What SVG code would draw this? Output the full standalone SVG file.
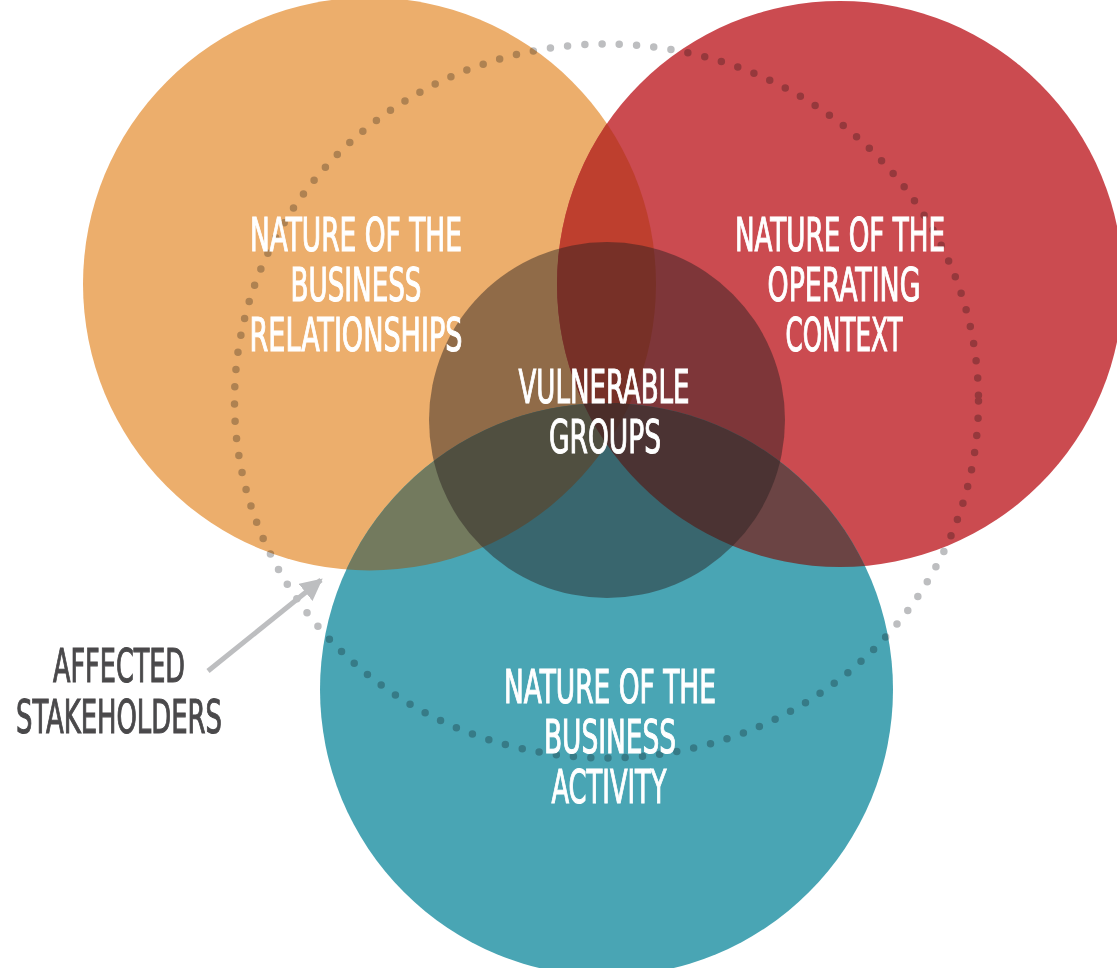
<svg xmlns="http://www.w3.org/2000/svg" width="1117" height="968" viewBox="0 0 1117 968">
<style>
.lbl{font-family:"Liberation Sans Narrow","DejaVu Sans Condensed","Liberation Sans",sans-serif;font-size:46px;fill:#ffffff;stroke:#ffffff;stroke-width:1.1;text-anchor:middle}
.dark{fill:#4a494b;stroke:#4a494b}
.dots{fill:none;stroke:#bdbec0;stroke-width:7.5;stroke-linecap:round;stroke-dasharray:0 17.3;mix-blend-mode:multiply}
</style>
<defs>
<clipPath id="cO"><circle cx="369.5" cy="284" r="286.5"/></clipPath>
<clipPath id="cR"><circle cx="840" cy="284" r="283"/></clipPath>
<marker id="ah" viewBox="0 0 10 10" refX="9" refY="5" markerWidth="4.4" markerHeight="4.4" orient="auto" markerUnits="strokeWidth">
<path d="M0,0 L10,5 L0,10 Z" fill="#bdbec0"/>
</marker>
</defs>
<rect width="1117" height="968" fill="#ffffff"/>
<g id="node-relationships"><circle cx="369.5" cy="284" r="286.5" fill="#ecae6c"/></g>
<g id="node-context"><circle cx="840" cy="284" r="283" fill="#cb4b50"/></g>
<g id="node-activity"><circle cx="606.5" cy="689.5" r="286.5" fill="#49a5b4"/></g>
<g id="overlaps">
<circle cx="840" cy="284" r="283" fill="#be3f2e" clip-path="url(#cO)"/>
<circle cx="606.5" cy="689.5" r="286.5" fill="#737a5e" clip-path="url(#cO)"/>
<circle cx="606.5" cy="689.5" r="286.5" fill="#6b4444" clip-path="url(#cR)"/>
<g clip-path="url(#cO)"><circle cx="606.5" cy="689.5" r="286.5" fill="#6a3a31" clip-path="url(#cR)"/></g>
</g>
<g id="node-vulnerable"><circle cx="607" cy="420" r="178" fill="#28201f" fill-opacity="0.47"/></g>
<g id="node-stakeholders">
<ellipse class="dots" cx="606.5" cy="401" rx="372" ry="357"/>
</g>
<g id="connectors">
<line x1="208" y1="671" x2="321" y2="580" stroke="#bdbec0" stroke-width="5" marker-end="url(#ah)"/>
</g>
<g id="label-relationships">
<text class="lbl" x="356" y="251" textLength="212" lengthAdjust="spacingAndGlyphs">NATURE OF THE</text>
<text class="lbl" x="356" y="301" textLength="131" lengthAdjust="spacingAndGlyphs">BUSINESS</text>
<text class="lbl" x="356" y="351" textLength="213" lengthAdjust="spacingAndGlyphs">RELATIONSHIPS</text>
</g>
<g id="label-context">
<text class="lbl" x="840" y="251" textLength="210" lengthAdjust="spacingAndGlyphs">NATURE OF THE</text>
<text class="lbl" x="844" y="301" textLength="153" lengthAdjust="spacingAndGlyphs">OPERATING</text>
<text class="lbl" x="844" y="351" textLength="117" lengthAdjust="spacingAndGlyphs">CONTEXT</text>
</g>
<g id="label-vulnerable">
<text class="lbl" x="604" y="403" textLength="171" lengthAdjust="spacingAndGlyphs">VULNERABLE</text>
<text class="lbl" x="605" y="453" textLength="112" lengthAdjust="spacingAndGlyphs">GROUPS</text>
</g>
<g id="label-activity">
<text class="lbl" x="610" y="703" textLength="212" lengthAdjust="spacingAndGlyphs">NATURE OF THE</text>
<text class="lbl" x="610" y="753" textLength="132" lengthAdjust="spacingAndGlyphs">BUSINESS</text>
<text class="lbl" x="609" y="803" textLength="115" lengthAdjust="spacingAndGlyphs">ACTIVITY</text>
</g>
<g id="label-stakeholders">
<text class="lbl dark" x="119" y="682" textLength="132" lengthAdjust="spacingAndGlyphs">AFFECTED</text>
<text class="lbl dark" x="119" y="733" textLength="206" lengthAdjust="spacingAndGlyphs">STAKEHOLDERS</text>
</g>
</svg>
